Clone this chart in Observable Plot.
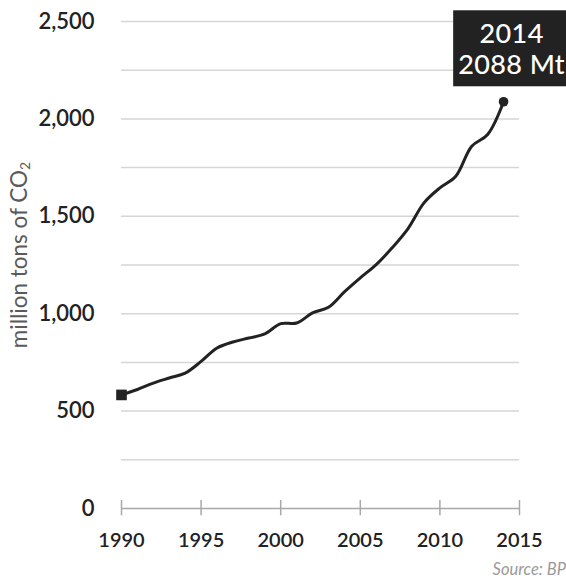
<!DOCTYPE html>
<html>
<head>
<meta charset="utf-8">
<script src="https://cdn.jsdelivr.net/npm/d3@7"></script>
<script src="https://cdn.jsdelivr.net/npm/@observablehq/plot@0.6"></script>
<style>
  html, body { margin: 0; padding: 0; background: #fff; overflow: hidden; }
  #chart { width: 566px; position: relative; font-family: Lato, "Open Sans", sans-serif; }
  #source { width: 566px; height: 29px; line-height: 29px; text-align: right; font-style: italic; font-size: 16.5px; color: #9a9a9a; font-family: Lato, "Open Sans", sans-serif; }
</style>
</head>
<body>
<div id="chart"></div>
<div id="source">Source: BP</div>
<script>
const years = [1990,1991,1992,1993,1994,1995,1996,1997,1998,1999,2000,2001,2002,2003,2004,2005,2006,2007,2008,2009,2010,2011,2012,2013,2014];
const emissions = [583,611,644,670,695,755,824,855,875,896,949,952,1004,1033,1112,1184,1252,1338,1437,1569,1646,1706,1860,1920,2088];
const yTicks = [0,500,1000,1500,2000,2500];
const gridValues = [250,500,750,1000,1250,1500,1750,2000,2250,2500];
const xTicks = [1990,1995,2000,2005,2010,2015];
const yLabel = "million tons of CO";
const yLabelSub = "2";
const unit = "Mt";

const data = years.map((y, i) => ({year: y, value: emissions[i]}));
const first = data[0];
const last = data[data.length - 1];

const plot = Plot.plot({
  width: 566,
  height: 555,
  marginLeft: 121,
  marginRight: 47,
  marginTop: 21,
  marginBottom: 47,
  style: {fontFamily: "Lato, 'Open Sans', sans-serif", fontWeight: 600, color: "#222", background: "#fff", overflow: "hidden"},
  x: {domain: [1990, 2015]},
  y: {domain: [0, 2500]},
  marks: [
    Plot.ruleY(gridValues, {stroke: "#d6d6d6", strokeWidth: 1.5}),
    Plot.ruleY([0], {stroke: "#a8a8a8", strokeWidth: 1.5}),
    Plot.ruleX(xTicks, {y1: -37, y2: 41, stroke: "#a8a8a8", strokeWidth: 1.5}),
    Plot.axisY(yTicks, {tickSize: 0, tickPadding: 27, fontSize: 22, tickFormat: d3.format(","), label: null}),
    Plot.axisX(xTicks, {tickSize: 0, tickPadding: 24, fontSize: 20, tickFormat: d => String(d), label: null}),
    Plot.line(data, {x: "year", y: "value", stroke: "#222", strokeWidth: 3, curve: "catmull-rom"}),
    Plot.dot([first], {x: "year", y: "value", symbol: "square", r: 6, fill: "#222"}),
    Plot.dot([last], {x: "year", y: "value", r: 4.8, fill: "#222"}),
    Plot.text([last], {x: "year", y: "value", text: d => `${d.year}\n${d.value} ${unit}`, dx: 8, dy: -53, fill: "#fff", fontSize: 27, fontWeight: 500, lineHeight: 1.16, textAnchor: "middle", className: "callout"})
  ]
});

document.getElementById("chart").appendChild(plot);

// background box behind the callout text, sized from the rendered text (inside the mark's group so it shares its offset)
const svg = d3.select(plot);
const calloutG = svg.select("g.callout");
if (!calloutG.empty()) {
  calloutG.attr("letter-spacing", "0.4px");
  const bb = calloutG.node().getBBox();
  const cy = bb.y + bb.height / 2;
  calloutG.insert("rect", ":first-child")
    .attr("x", bb.x - 5)
    .attr("y", cy - 38)
    .attr("width", bb.width + 20)
    .attr("height", 76)
    .attr("fill", "#222");
}

// y-axis title with subscript
const t = svg.append("text")
  .attr("transform", `translate(21, 255) rotate(-90)`)
  .attr("text-anchor", "middle")
  .attr("dominant-baseline", "middle")
  .attr("fill", "#5a5a5a")
  .attr("font-size", 22.5)
  .attr("font-weight", 400)
  .text(yLabel);
t.append("tspan").attr("font-size", 14).attr("dy", 5).text(yLabelSub);
</script>
</body>
</html>
